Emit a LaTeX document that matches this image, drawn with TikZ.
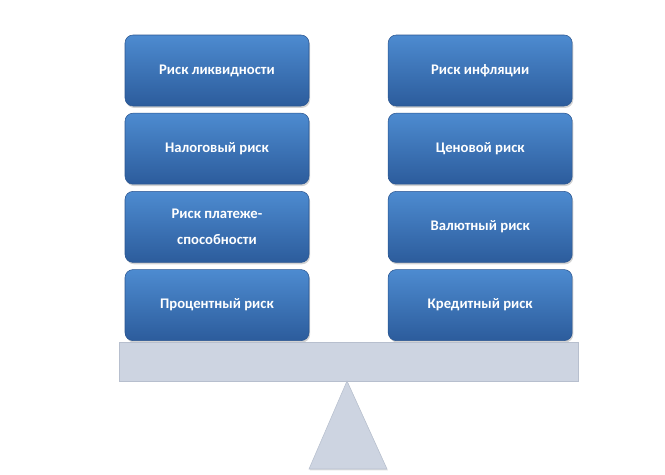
\documentclass[tikz,border=0pt]{standalone}
\usepackage{fontspec}
\setmainfont{Carlito}
\usetikzlibrary{positioning,shadows}

\definecolor{riskTop}{HTML}{4D8BD0}
\definecolor{riskBot}{HTML}{2C5C9C}
\definecolor{riskEdge}{HTML}{2A5590}
\definecolor{beamFill}{HTML}{CDD4E1}
\definecolor{beamEdge}{HTML}{B7BFCE}

\begin{document}
\begin{tikzpicture}[
    x=0.75pt, y=-0.75pt,
    riskbox/.style={
        rectangle, rounded corners=6pt,
        minimum width=138pt, minimum height=53.25pt,
        top color=riskTop, bottom color=riskBot,
        draw=riskEdge, line width=0.4pt,
        drop shadow={shadow xshift=0.8pt, shadow yshift=-1.4pt, opacity=0.35},
        text=white, font=\fontsize{11}{13}\selectfont\bfseries, align=center},
    beam/.style={fill=beamFill, draw=beamEdge, line width=0.4pt,
        drop shadow={shadow xshift=0.6pt, shadow yshift=-1pt, opacity=0.25}}
]
\useasboundingbox (0,0) rectangle (665,475);

% left column
\node[riskbox] (liq) at (217,70.5) {Риск ликвидности};
\node[riskbox, below=5pt of liq] (tax) {Налоговый риск};
\node[riskbox, below=5pt of tax] (solv) {Риск платеже-\\[7pt]способности};
\node[riskbox, below=5pt of solv] (rate) {Процентный риск};

% right column
\node[riskbox, right=59pt of liq] (infl) {Риск инфляции};
\node[riskbox, below=5pt of infl] (price) {Ценовой риск};
\node[riskbox, below=5pt of price] (curr) {Валютный риск};
\node[riskbox, below=5pt of curr] (cred) {Кредитный риск};

% scales
\coordinate (apex) at (347,381);
\draw[beam] (119,342) rectangle (578,381);
\draw[beam] (apex) -- (387,469) -- (309,469) -- cycle;

\end{tikzpicture}
\end{document}
